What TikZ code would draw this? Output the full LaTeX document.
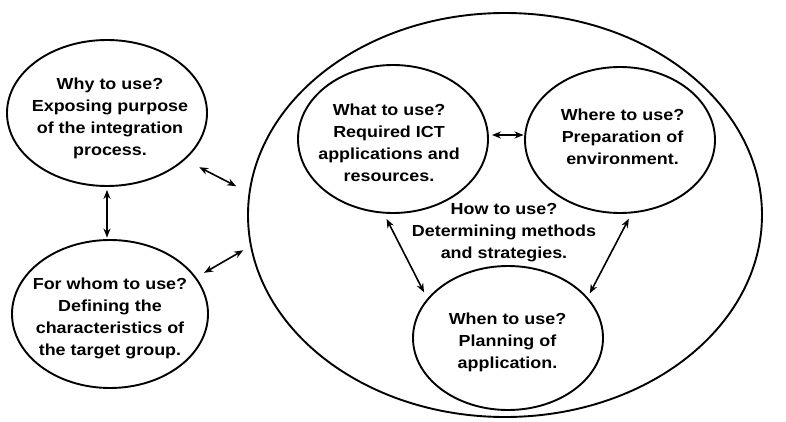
\documentclass[tikz,border=0pt]{standalone}
\usepackage{fontspec}
\setmainfont{Liberation Sans}[FakeStretch=1.12]
\usetikzlibrary{shapes.geometric,arrows.meta}
\begin{document}
\begin{tikzpicture}[x=1pt,y=-1pt,
  oval/.style={draw,ellipse,line width=1.9pt,inner sep=0pt},
  lbl/.style={align=center,font=\fontsize{16}{22}\selectfont\bfseries,inner sep=0pt},
  arr/.style={{Stealth[length=9pt,width=7pt]}-{Stealth[length=9pt,width=7pt]},line width=1.6pt}]
\useasboundingbox (0,0) rectangle (786,422);
\node[oval,minimum width=200pt,minimum height=146pt] (why) at (107,113) {};
\node[oval,minimum width=196pt,minimum height=148pt] (whom) at (110,314) {};
\node[oval,minimum width=514pt,minimum height=404pt] (big) at (505,215) {};
\node[oval,minimum width=190pt,minimum height=148pt] (what) at (393,139) {};
\node[oval,minimum width=190pt,minimum height=146pt] (where) at (620,140) {};
\node[oval,minimum width=190pt,minimum height=144pt] (when) at (508,338) {};
\node[lbl] (whyt) at (110,118) {Why to use?\\Exposing purpose\\of the integration\\process.};
\node[lbl] (whomt) at (110,318.5) {For whom to use?\\Defining the\\characteristics of\\the target group.};
\node[lbl] (whatt) at (389,142.5) {What to use?\\Required ICT\\applications and\\resources.};
\node[lbl] (wheret) at (622.5,137) {Where to use?\\Preparation of\\environment.};
\node[lbl] (whent) at (507.5,342) {When to use?\\Planning of\\application.};
\node[lbl] (howt) at (504,233) {How to use?\\Determining methods\\and strategies.};
\draw[arr,shorten <=3pt,shorten >=1.5pt] (why.south) -- (why.south |- whom.north);
\draw[arr,shorten <=16pt,shorten >=14pt] (why.-31.4) -- (big.175.3);
\draw[arr,shorten <=9pt,shorten >=8pt] (whom.23.6) -- (big.187.8);
\draw[arr,shorten <=3pt,shorten >=0.5pt] (what.east |- 0,135) -- (where.west |- 0,135);
\draw[arr,shorten <=6pt,shorten >=7pt] (what.263.3) -- (when.154.1);
\draw[arr,shorten <=6pt,shorten >=4.5pt] (where.-81.4) -- (when.27.8);
\end{tikzpicture}
\end{document}
